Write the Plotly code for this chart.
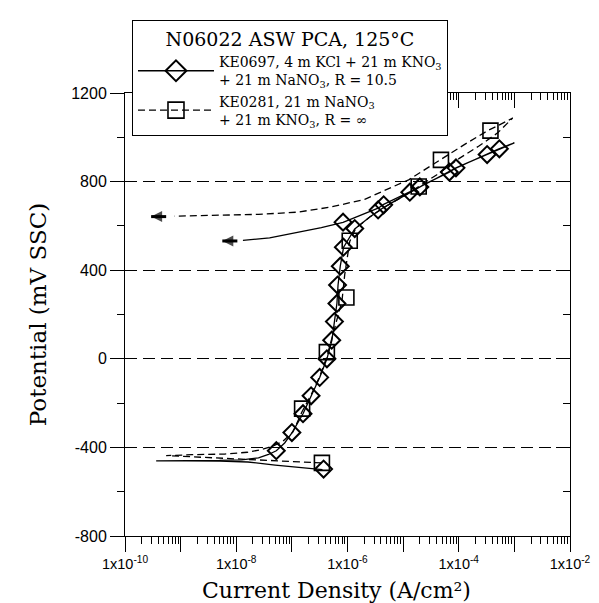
import numpy as np
import plotly.graph_objects as go

# ---------------- data (log10 current density, potential in mV SSC) ----------------
# KE0697 (solid): forward scan then reverse scan
ke0697_line_logi = [-6.45, -6.70, -6.95, -7.30, -7.79, -8.30, -8.90, -9.44,
                    -8.90, -8.30, -7.90, -7.60, -7.42, -7.28, -7.13, -6.996, -6.80, -6.655,
                    -6.50, -6.37, -6.28, -6.235, -6.19, -6.17, -6.13, -6.07, -5.87, -5.60,
                    -5.40, -5.20, -4.88, -4.60, -4.17, -4.05, -3.70, -3.49, -3.27, -3.00,
                    -3.30, -3.60, -4.10, -4.60, -5.00, -5.35, -5.45, -5.75, -6.08, -6.47,
                    -6.80, -7.07, -7.40, -7.88]
ke0697_line_mv = [-500, -495, -490, -480, -466, -462, -461, -461,
                  -460, -459, -456, -447, -432, -415, -380, -333, -248, -167,
                  -84, 0, 84, 168, 250, 333, 418, 504, 586, 640,
                  675, 705, 750, 790, 843, 862, 900, 922, 948, 975,
                  946, 912, 855, 788, 738, 697, 680, 650, 616, 592,
                  575, 562, 546, 535]
ke0697_marker_logi = [-6.43, -7.28, -7.00, -6.80, -6.655, -6.50, -6.37, -6.284, -6.235,
                      -6.19, -6.179, -6.13, -6.074, -5.87, -6.08, -5.45, -5.35, -4.88,
                      -4.70, -4.17, -4.05, -3.49, -3.27]
ke0697_marker_mv = [-498, -415, -333, -248, -167, -84, 0, 84, 168,
                    250, 333, 418, 504, 588, 617, 672, 695, 752,
                    776, 843, 862, 922, 948]

# KE0281 (dashed): forward scan then reverse scan
ke0281_line_logi = [-6.46, -6.71, -7.00, -7.25, -7.60, -8.21, -8.80, -9.26,
                    -8.80, -8.21, -7.80, -7.55, -7.35, -7.16, -6.98, -6.82, -6.65, -6.50,
                    -6.37, -6.27, -6.18, -6.10, -6.05, -6.00, -5.96, -5.85, -5.60, -5.30,
                    -4.95, -4.72, -4.40, -3.99, -3.63, -3.30, -3.03,
                    -3.30, -3.48, -3.90, -4.32, -4.56, -4.90, -5.20, -5.69, -6.30, -6.90,
                    -7.60, -8.30, -9.11]
ke0281_line_mv = [-470, -467, -462, -460, -456, -450, -443, -437,
                  -433, -430, -422, -410, -395, -372, -330, -240, -160, -80,
                  10, 100, 180, 260, 380, 460, 530, 590, 640, 690,
                  740, 778, 830, 905, 962, 1020, 1087,
                  1052, 1030, 967, 900, 862, 808, 775, 720, 685, 662,
                  652, 647, 644]
ke0281_marker_logi = [-6.46, -6.816, -6.371, -6.02, -5.96, -4.72, -4.32, -3.43]
ke0281_marker_mv = [-470, -225, 30, 277, 533, 778, 898, 1030]

# end-of-scan direction arrows: (head, tail) in log10 current, potential
arrow_head_logi = [-8.25, -9.53]
arrow_tail_logi = [-7.98, -9.26]
arrow_mv = [532, 642]

# axis ticks
x_exponents = list(range(-10, -1))
x_tick_labels = ["1x10<sup>%d</sup>" % e if e % 2 == 0 else "" for e in x_exponents]
y_tick_vals = [-800, -400, 0, 400, 800, 1200]
y_tick_labels = ["-800", "-400", "0", "400", "800", "1200"]
y_minor_vals = [-600, -200, 200, 600, 1000]

x_title = "Current Density (A/cm²)"
y_title = "Potential (mV SSC)"
legend_title = "N06022 ASW PCA, 125°C"
name_ke0697 = "KE0697, 4 m KCl + 21 m KNO<sub>3</sub><br>+ 21 m NaNO<sub>3</sub>, R = 10.5"
name_ke0281 = "KE0281, 21 m NaNO<sub>3</sub><br>+ 21 m KNO<sub>3</sub>, R = ∞"

# ---------------- figure ----------------
def cur(v):
    return (10.0 ** np.array(v)).tolist()

serif = "DejaVu Serif"
sans = "Liberation Sans, Arial"
dash = "7px,4px"

fig = go.Figure()

fig.add_trace(go.Scatter(x=cur(ke0697_line_logi), y=ke0697_line_mv, mode="lines",
                         line=dict(color="black", width=1.3), showlegend=False, hoverinfo="skip"))
fig.add_trace(go.Scatter(x=cur(ke0281_line_logi), y=ke0281_line_mv, mode="lines",
                         line=dict(color="black", width=1.3, dash=dash), showlegend=False, hoverinfo="skip"))
fig.add_trace(go.Scatter(x=cur(ke0697_marker_logi), y=ke0697_marker_mv, mode="markers",
                         marker=dict(symbol="diamond-open", size=13, color="black",
                                     line=dict(width=2, color="black")),
                         showlegend=False))
fig.add_trace(go.Scatter(x=cur(ke0281_marker_logi), y=ke0281_marker_mv, mode="markers",
                         marker=dict(symbol="square-open", size=15, color="black",
                                     line=dict(width=1.6, color="black")),
                         showlegend=False))

# legend entries
fig.add_trace(go.Scatter(x=[None], y=[None], mode="lines+markers", name=name_ke0697,
                         line=dict(color="black", width=1.3),
                         marker=dict(symbol="diamond-open", size=16, color="black",
                                     line=dict(width=2, color="black"))))
fig.add_trace(go.Scatter(x=[None], y=[None], mode="lines+markers", name=name_ke0281,
                         line=dict(color="black", width=1.3, dash=dash),
                         marker=dict(symbol="square-open", size=18, color="black",
                                     line=dict(width=1.6, color="black"))))

# dummy trace to carry the mirrored (top/right) axes
fig.add_trace(go.Scatter(x=[None], y=[None], xaxis="x2", yaxis="y2", showlegend=False,
                         hoverinfo="skip"))

# direction arrows drawn as short thick lines with an arrowhead marker at the head
for h, t, v in zip(arrow_head_logi, arrow_tail_logi, arrow_mv):
    fig.add_trace(go.Scatter(x=cur([h, t]), y=[v, v], mode="lines+markers",
                             line=dict(color="black", width=3),
                             marker=dict(symbol="arrow-left", size=[11, 0], color="black",
                                         line=dict(width=0)),
                             showlegend=False, hoverinfo="skip"))

x_major = [10.0 ** e for e in x_exponents]
x_minor = [m * 10.0 ** e for e in x_exponents[:-1] for m in range(2, 10)]

common_x = dict(type="log", range=[-10, -2], showline=True, linecolor="black", linewidth=1,
                tickvals=x_major, tickcolor="black", tickwidth=1, ticklen=15,
                showgrid=False, zeroline=False)
common_y = dict(range=[-800, 1200], showline=True, linecolor="black", linewidth=1,
                tickvals=y_tick_vals, tickcolor="black", tickwidth=1, ticklen=14, zeroline=False)

fig.update_layout(
    width=599, height=603,
    margin=dict(l=117, r=37, t=83, b=75),
    paper_bgcolor="white", plot_bgcolor="white",
    font=dict(family=serif, color="black"),
    xaxis=dict(**common_x, ticks="outside", ticktext=x_tick_labels,
               tickfont=dict(family=sans, size=14.5),
               minor=dict(tickvals=x_minor, ticks="outside", ticklen=7, tickcolor="black",
                          showgrid=False)),
    xaxis2=dict(**common_x, ticks="inside", overlaying="x", side="top", showticklabels=False,
                minor=dict(tickvals=x_minor, ticks="inside", ticklen=7, tickcolor="black",
                           showgrid=False)),
    yaxis=dict(**common_y, ticks="outside", ticktext=y_tick_labels,
               tickfont=dict(family=sans, size=16),
               showgrid=True, gridcolor="black", gridwidth=1, griddash="12px,6px",
               minor=dict(tickvals=y_minor_vals, ticks="outside", ticklen=7, tickcolor="black",
                          showgrid=False),
               title=dict(text=y_title, font=dict(family=serif, size=23), standoff=18)),
    yaxis2=dict(**common_y, ticks="inside", overlaying="y", side="right", showticklabels=False,
                showgrid=False,
                minor=dict(tickvals=y_minor_vals, ticks="inside", ticklen=7, tickcolor="black",
                           showgrid=False)),
    legend=dict(x=0.0157, y=1.164, xanchor="left", yanchor="top",
                bgcolor="white", bordercolor="black", borderwidth=1,
                font=dict(family=serif, size=14),
                title=dict(text=legend_title, side="top center", font=dict(family=serif, size=19)),
                itemwidth=76, tracegroupgap=4),
    showlegend=True,
)

fig.add_annotation(text=x_title, xref="paper", yref="paper", x=0.476, y=-0.1225,
                   xanchor="center", yanchor="middle", showarrow=False,
                   font=dict(family=serif, size=22, color="black"))

fig.write_html("out.html")
